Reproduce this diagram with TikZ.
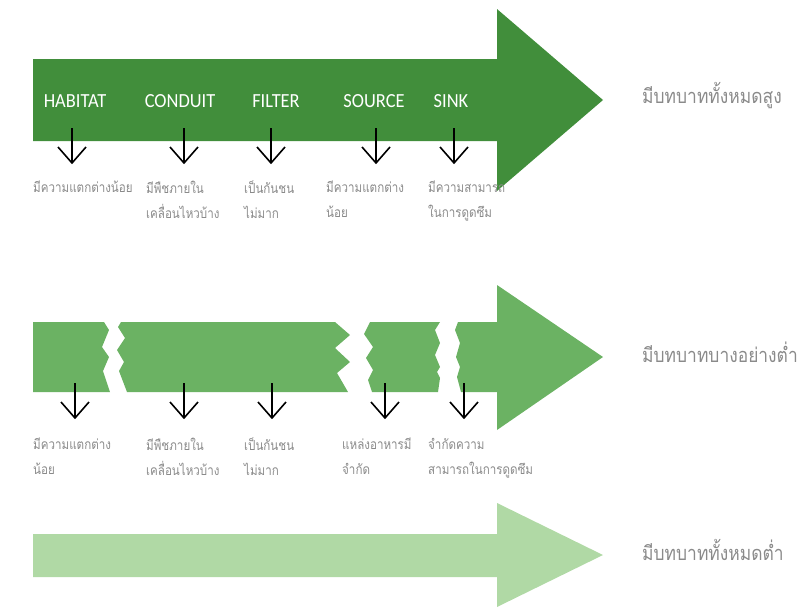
\documentclass[tikz,border=0pt]{standalone}
\usepackage{fontspec}
\setmainfont{Carlito}
\newfontfamily\rolefont[FakeStretch=0.92]{Carlito}
\newfontfamily\thaifont[Script=Thai,FakeStretch=0.87]{Loma}
\newfontfamily\thainote[Script=Thai,FakeStretch=0.84]{Loma}
\definecolor{darkleaf}{HTML}{418E3B}
\definecolor{midleaf}{HTML}{6BB263}
\definecolor{paleleaf}{HTML}{B0D9A5}
\definecolor{notegray}{HTML}{8A8A8A}
\begin{document}
\begin{tikzpicture}[x=1pt,y=-1pt,
  role/.style={text=white,font=\rolefont\fontsize{20}{20}\selectfont,inner sep=0pt,anchor=center},
  note/.style={text=notegray,font=\thainote\fontsize{13.8}{25}\selectfont,inner sep=0pt,anchor=north west,align=left},
  level/.style={text=notegray,font=\thaifont\fontsize{20}{20}\selectfont,inner sep=0pt,anchor=west},
  down/.style={line width=1.6pt,line join=miter}]
\useasboundingbox (0,0) rectangle (807,608);

% ---------- high-role band ----------
\fill[darkleaf] (33,59) -- (497,59) -- (497,9) -- (603,100) -- (497,191) -- (497,141) -- (33,141) -- cycle;
\node[role] (r1) at (75,101) {HABITAT};
\node[role] (r2) at (180,101) {CONDUIT};
\node[role] (r3) at (276,101) {FILTER};
\node[role] (r4) at (374,101) {SOURCE};
\node[role] (r5) at (451,101) {SINK};

% pointers with open V heads
\foreach \i/\x in {1/72,2/184,3/271,4/376,5/454}{
  \coordinate (ta\i) at (\x,128);
  \coordinate (tb\i) at (\x,163);
  \draw[down] (ta\i) -- (tb\i) ++(-14,-16) -- (tb\i) -- ++(14,-16);
}
\node[note] (tn1) at (33,181) {มีความแตกต่างน้อย};
\node[note] (tn2) at (146,181) {มีพืชภายใน\\เคลื่อนไหวบ้าง};
\node[note] (tn3) at (244,181) {เป็นกันชน\\ไม่มาก};
\node[note] (tn4) at (326,181) {มีความแตกต่าง\\น้อย};
\node[note] (tn5) at (428,181) {มีความสามารถ\\ในการดูดซึม};
\node[level] (lv1) at (642,96) {มีบทบาททั้งหมดสูง};

% ---------- fragmented band ----------
\fill[midleaf] (33,322) -- (104,322) -- (109,330) -- (102,347) -- (109,357) -- (103,371) -- (110,392) -- (33,392) -- cycle;
\fill[midleaf] (121,322) -- (335,322) -- (350,335) -- (335,348) -- (350,362) -- (337,373) -- (348,392)
  -- (127,392) -- (119,371) -- (124,362) -- (117,350) -- (125,338) -- (118,327) -- cycle;
\fill[midleaf] (370,322) -- (440,322) -- (435,330) -- (440,343) -- (435,355) -- (440,367) -- (437,372) -- (440,378) -- (438,392)
  -- (372,392) -- (368,380) -- (373,370) -- (366,358) -- (373,347) -- (364,334) -- cycle;
\fill[midleaf] (458,322) -- (497,322) -- (497,285) -- (603,357) -- (497,430) -- (497,392) -- (461,392)
  -- (457,377) -- (460,367) -- (456,357) -- (460,343) -- (455,330) -- cycle;

\foreach \i/\x in {1/75,2/184,3/272,4/385,5/464}{
  \coordinate (ma\i) at (\x,383);
  \coordinate (mb\i) at (\x,418);
  \draw[down] (ma\i) -- (mb\i) ++(-14,-16) -- (mb\i) -- ++(14,-16);
}
\node[note] (mn1) at (33,438) {มีความแตกต่าง\\น้อย};
\node[note] (mn2) at (146,438) {มีพืชภายใน\\เคลื่อนไหวบ้าง};
\node[note] (mn3) at (244,438) {เป็นกันชน\\ไม่มาก};
\node[note] (mn4) at (342,438) {แหล่งอาหารมี\\จำกัด};
\node[note] (mn5) at (428,438) {จำกัดความ\\สามารถในการดูดซึม};
\node[level] (lv2) at (642,352) {มีบทบาทบางอย่างต่ำ};

% ---------- low-role band ----------
\fill[paleleaf] (33,534) -- (497,534) -- (497,503) -- (603,555) -- (497,607) -- (497,577) -- (33,577) -- cycle;
\node[level] (lv3) at (642,550) {มีบทบาททั้งหมดต่ำ};
\end{tikzpicture}
\end{document}
